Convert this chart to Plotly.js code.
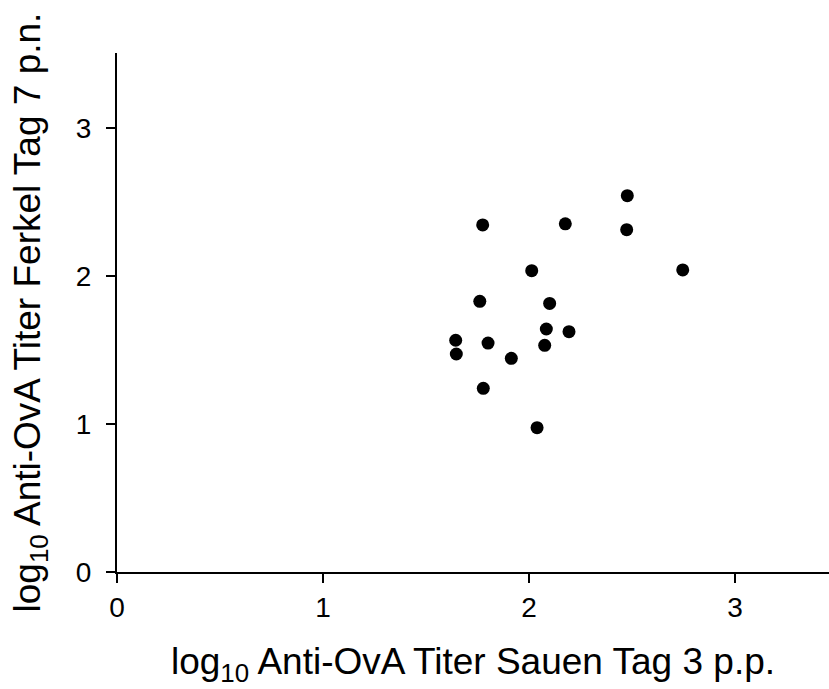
<!DOCTYPE html>
<html><head><meta charset="utf-8">
<script src="https://cdn.plot.ly/plotly-3.0.1.min.js"></script>
<style>html,body{margin:0;padding:0;background:#fff}</style>
</head><body><div id="chart" style="width:829px;height:689px"></div>
<script>
const sauenTag3 = [2.477, 1.775, 2.176, 2.474, 2.746, 2.013, 1.761, 2.100, 2.084, 2.194, 1.644, 1.801, 2.076, 1.647, 1.914, 1.778, 2.039];
const ferkelTag7 = [2.543, 2.345, 2.353, 2.313, 2.041, 2.036, 1.829, 1.815, 1.642, 1.624, 1.566, 1.547, 1.532, 1.473, 1.444, 1.241, 0.975];
const tickVals = [0, 1, 2, 3];
const tickText = ['0', '1', '2', '3'];
const xTitle = 'log<sub>10</sub> Anti-OvA Titer Sauen Tag 3 p.p.';
const yTitle = 'log<sub>10</sub> Anti-OvA Titer Ferkel Tag 7 p.n.';

const trace = {
  x: sauenTag3, y: ferkelTag7, type: 'scatter', mode: 'markers',
  marker: {color: '#000', size: 13}, hoverinfo: 'x+y'
};
const fam = 'Liberation Sans, Arial, sans-serif';
const layout = {
  width: 829, height: 689,
  margin: {l: 117, r: 0, t: 53, b: 117},
  paper_bgcolor: '#fff', plot_bgcolor: '#fff',
  showlegend: false,
  font: {family: fam, color: '#000'},
  xaxis: {
    range: [0, 3.456], tickvals: tickVals, ticktext: tickText,
    showline: true, linecolor: '#000', linewidth: 2, showgrid: false, zeroline: false,
    ticks: 'outside', ticklen: 9, tickwidth: 1.5, tickcolor: '#000',
    tickfont: {size: 28, family: fam, color: '#000'},
    title: {text: xTitle, font: {size: 37, family: fam, color: '#000'}, standoff: 27}
  },
  yaxis: {
    range: [0, 3.507], tickvals: tickVals, ticktext: tickText,
    showline: true, linecolor: '#000', linewidth: 2, showgrid: false, zeroline: false,
    ticks: 'outside', ticklen: 9, tickwidth: 1.5, tickcolor: '#000', ticklabelstandoff: 9,
    tickfont: {size: 28, family: fam, color: '#000'}
  },
  annotations: [{
    text: yTitle, textangle: -90, showarrow: false,
    xref: 'paper', yref: 'paper', x: -0.1222, y: 0.5, xanchor: 'center', yanchor: 'middle',
    font: {size: 37, family: fam, color: '#000'}
  }]
};
Plotly.newPlot('chart', [trace], layout, {displayModeBar: false, staticPlot: true});
</script></body></html>
